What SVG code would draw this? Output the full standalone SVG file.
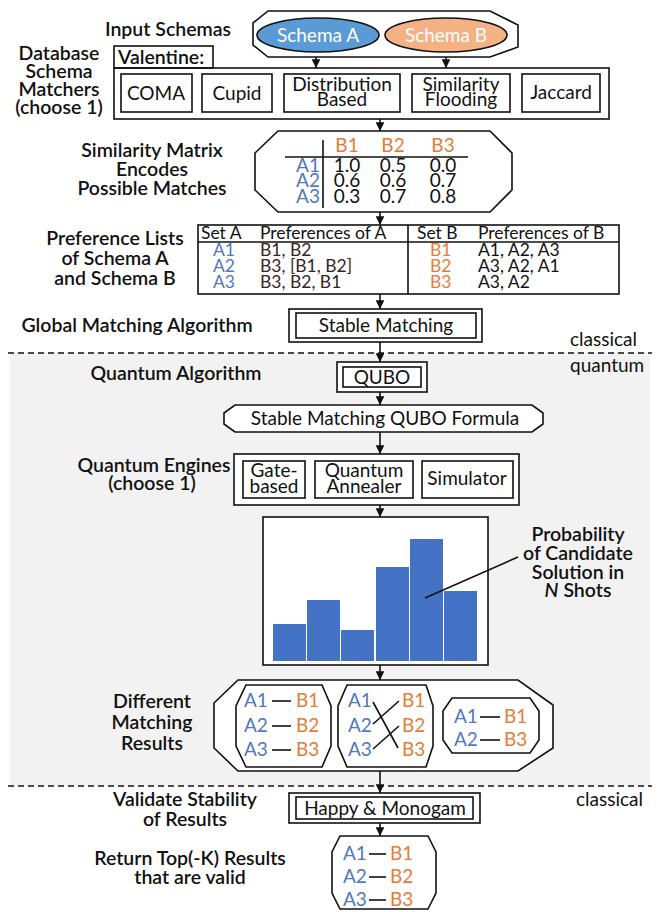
<svg xmlns="http://www.w3.org/2000/svg" width="657" height="912" viewBox="0 0 657 912">
  <style>
    .lbl { font-family: Lato, "Open Sans", sans-serif; font-size: 19.5px; font-weight: 600; fill: #111; text-anchor: middle; }
    .t { font-family: Lato, "Open Sans", sans-serif; font-size: 19px; fill: #111; }
    .c { text-anchor: middle; }
    .box { fill: none; stroke: #111; stroke-width: 1.6; }
    .wbox { fill: #fff; stroke: #111; stroke-width: 1.6; }
    .edge { stroke: #111; stroke-width: 1.6; fill: none; }
    .a { fill: #4f78c4; }
    .b { fill: #e57c37; }
    .pref { fill: #3a2424; }
    .bar { fill: #4472c4; }
    .tbl { font-size: 17.5px; }
  </style>
  <defs>
    <marker id="arr" viewBox="0 0 10 10" refX="10" refY="5" markerWidth="5.5" markerHeight="5.5" orient="auto" markerUnits="strokeWidth">
      <path d="M0,0 L10,5 L0,10 z" fill="#111"/>
    </marker>
  </defs>

  <!-- quantum section background -->
  <rect x="10" y="353" width="640" height="433" fill="#f2f2f2"/>
  <line x1="8" y1="353" x2="652" y2="353" stroke="#111" stroke-width="1.5" stroke-dasharray="6 4"/>
  <line x1="8" y1="786" x2="652" y2="786" stroke="#111" stroke-width="1.5" stroke-dasharray="6 4"/>
  <text class="t" x="570" y="346">classical</text>
  <text class="t" x="570" y="372">quantum</text>
  <text class="t" x="576" y="806">classical</text>

  <!-- step labels -->
  <g id="labels">
    <text class="lbl" x="168" y="36">Input Schemas</text>
    <text class="lbl" x="59" y="60">Database</text>
    <text class="lbl" x="59" y="78">Schema</text>
    <text class="lbl" x="59" y="96">Matchers</text>
    <text class="lbl" x="59" y="114">(choose 1)</text>
    <text class="lbl" x="152" y="157">Similarity Matrix</text>
    <text class="lbl" x="152" y="176">Encodes</text>
    <text class="lbl" x="152" y="195">Possible Matches</text>
    <text class="lbl" x="115" y="245">Preference Lists</text>
    <text class="lbl" x="115" y="265">of Schema A</text>
    <text class="lbl" x="115" y="285">and Schema B</text>
    <text class="lbl" x="137" y="332">Global Matching Algorithm</text>
    <text class="lbl" x="176" y="380">Quantum Algorithm</text>
    <text class="lbl" x="154" y="472">Quantum Engines</text>
    <text class="lbl" x="152" y="490">(choose 1)</text>
    <text class="lbl" x="152" y="708">Different</text>
    <text class="lbl" x="152" y="729">Matching</text>
    <text class="lbl" x="152" y="750">Results</text>
    <text class="lbl" x="185" y="806">Validate Stability</text>
    <text class="lbl" x="185" y="826">of Results</text>
    <text class="lbl" x="190" y="865">Return Top(-K) Results</text>
    <text class="lbl" x="190" y="884">that are valid</text>
  </g>

  <!-- connectors -->
  <g id="connectors">
    <line class="edge" x1="316" y1="52" x2="316" y2="68" marker-end="url(#arr)"/>
    <line class="edge" x1="446" y1="52" x2="446" y2="68" marker-end="url(#arr)"/>
    <line class="edge" x1="380" y1="119" x2="380" y2="131" marker-end="url(#arr)"/>
    <line class="edge" x1="380" y1="212" x2="380" y2="225" marker-end="url(#arr)"/>
    <line class="edge" x1="380" y1="294" x2="380" y2="309" marker-end="url(#arr)"/>
    <line class="edge" x1="380" y1="342" x2="380" y2="362" marker-end="url(#arr)"/>
    <line class="edge" x1="380" y1="392" x2="380" y2="405" marker-end="url(#arr)"/>
    <line class="edge" x1="380" y1="432" x2="380" y2="454" marker-end="url(#arr)"/>
    <line class="edge" x1="380" y1="505" x2="380" y2="517" marker-end="url(#arr)"/>
    <line class="edge" x1="380" y1="665" x2="380" y2="680" marker-end="url(#arr)"/>
    <line class="edge" x1="380" y1="771" x2="380" y2="793" marker-end="url(#arr)"/>
    <line class="edge" x1="380" y1="823" x2="380" y2="836" marker-end="url(#arr)"/>
  </g>

  <!-- input schemas -->
  <g id="input-schemas">
    <polygon class="wbox" points="268,11 490,11 518,25 518,47 490,57 268,57 253,45 253,23"/>
    <ellipse cx="318" cy="35" rx="61" ry="17" fill="#5b9bd5" stroke="#111" stroke-width="1.6"/>
    <text class="t c" x="318" y="42" style="fill:#fff">Schema A</text>
    <ellipse cx="446" cy="35" rx="61" ry="17" fill="#f4b183" stroke="#111" stroke-width="1.6"/>
    <text class="t c" x="446" y="42" style="fill:#fff">Schema B</text>
  </g>

  <!-- schema matchers -->
  <g id="matchers">
    <rect class="box" x="114" y="46" width="99" height="22"/>
    <text class="lbl" x="118" y="64" style="text-anchor:start">Valentine:</text>
    <rect class="box" x="114" y="68" width="495" height="51" stroke-width="2"/>
    <rect class="box" x="121" y="74" width="71" height="38"/>
    <text class="t c" x="156" y="100">COMA</text>
    <rect class="box" x="202" y="74" width="70" height="38"/>
    <text class="t c" x="237" y="100">Cupid</text>
    <rect class="box" x="284" y="74" width="116" height="38"/>
    <text class="t c" x="342" y="91">Distribution</text>
    <text class="t c" x="342" y="106">Based</text>
    <rect class="box" x="412" y="74" width="98" height="38"/>
    <text class="t c" x="461" y="91">Similarity</text>
    <text class="t c" x="461" y="106">Flooding</text>
    <rect class="box" x="522" y="74" width="78" height="38"/>
    <text class="t c" x="561" y="99">Jaccard</text>
  </g>

  <!-- similarity matrix -->
  <g id="similarity-matrix">
    <polygon class="wbox" points="278,131 490,131 512,153 512,190 490,212 278,212 255,190 255,153"/>
    <line class="edge" x1="323" y1="140" x2="323" y2="208"/>
    <line class="edge" x1="285" y1="157" x2="468" y2="157"/>
    <text class="t c b" x="347" y="152">B1</text>
    <text class="t c b" x="393" y="152">B2</text>
    <text class="t c b" x="443" y="152">B3</text>
    <text class="t a" x="320" y="172" text-anchor="end">A1</text>
    <text class="t a" x="320" y="187" text-anchor="end">A2</text>
    <text class="t a" x="320" y="203" text-anchor="end">A3</text>
    <text class="t c" x="347" y="172">1.0</text>
    <text class="t c" x="393" y="172">0.5</text>
    <text class="t c" x="443" y="172">0.0</text>
    <text class="t c" x="347" y="187">0.6</text>
    <text class="t c" x="393" y="187">0.6</text>
    <text class="t c" x="443" y="187">0.7</text>
    <text class="t c" x="347" y="203">0.3</text>
    <text class="t c" x="393" y="203">0.7</text>
    <text class="t c" x="443" y="203">0.8</text>
  </g>

  <!-- preference lists -->
  <g id="preference-lists">
    <rect class="wbox" x="198" y="225" width="421" height="69"/>
    <line class="edge" x1="198" y1="242" x2="619" y2="242"/>
    <line class="edge" x1="408" y1="225" x2="408" y2="294"/>
    <text class="t tbl" x="201" y="239">Set A</text>
    <text class="t tbl" x="260" y="239">Preferences of A</text>
    <text class="t tbl a" x="213" y="256">A1</text>
    <text class="t tbl a" x="213" y="272">A2</text>
    <text class="t tbl a" x="213" y="288">A3</text>
    <text class="t tbl pref" x="260" y="256">B1, B2</text>
    <text class="t tbl pref" x="260" y="272">B3, [B1, B2]</text>
    <text class="t tbl pref" x="260" y="288">B3, B2, B1</text>
    <text class="t tbl" x="417" y="239">Set B</text>
    <text class="t tbl" x="478" y="239">Preferences of B</text>
    <text class="t tbl b" x="430" y="256">B1</text>
    <text class="t tbl b" x="430" y="272">B2</text>
    <text class="t tbl b" x="430" y="288">B3</text>
    <text class="t tbl" x="478" y="256">A1, A2, A3</text>
    <text class="t tbl" x="478" y="272">A3, A2, A1</text>
    <text class="t tbl" x="478" y="288">A3, A2</text>
  </g>

  <!-- stable matching -->
  <g id="stable-matching">
    <rect class="wbox" x="289" y="309" width="193" height="33"/>
    <rect class="box" x="296" y="313" width="180" height="25"/>
    <text class="t c" x="386" y="332">Stable Matching</text>
  </g>

  <!-- QUBO -->
  <g id="qubo">
    <rect class="wbox" x="337" y="362" width="90" height="30"/>
    <rect class="box" x="343" y="367" width="78" height="20"/>
    <text class="t c" x="382" y="384">QUBO</text>
  </g>

  <!-- QUBO formula -->
  <g id="qubo-formula">
    <polygon class="wbox" points="235,405 532,405 543,413 543,424 532,432 235,432 224,424 224,413"/>
    <text class="t c" x="385" y="425">Stable Matching QUBO Formula</text>
  </g>

  <!-- quantum engines -->
  <g id="engines">
    <rect class="wbox" x="234" y="454" width="285" height="51" stroke-width="2"/>
    <rect class="box" x="243" y="461" width="62" height="37"/>
    <text class="t c" x="274" y="477">Gate-</text>
    <text class="t c" x="274" y="493">based</text>
    <rect class="box" x="315" y="461" width="98" height="37"/>
    <text class="t c" x="364" y="477">Quantum</text>
    <text class="t c" x="364" y="493">Annealer</text>
    <rect class="box" x="422" y="461" width="91" height="37"/>
    <text class="t c" x="467" y="485">Simulator</text>
  </g>

  <!-- histogram -->
  <g id="histogram">
    <rect class="wbox" x="263" y="517" width="225" height="148" stroke-width="2"/>
    <rect class="bar" x="273" y="624" width="33" height="37"/>
    <rect class="bar" x="307" y="600" width="33" height="61"/>
    <rect class="bar" x="341" y="630" width="33" height="31"/>
    <rect class="bar" x="376" y="567" width="33" height="94"/>
    <rect class="bar" x="410" y="539" width="33" height="122"/>
    <rect class="bar" x="444" y="591" width="33" height="70"/>
    <line class="edge" x1="425" y1="598" x2="518" y2="557"/>
    <text class="lbl" x="578" y="541">Probability</text>
    <text class="lbl" x="578" y="560">of Candidate</text>
    <text class="lbl" x="578" y="579">Solution in</text>
    <text class="lbl" x="578" y="597"><tspan font-style="italic">N</tspan> Shots</text>
  </g>

  <!-- candidate matchings -->
  <g id="matching-results">
    <polygon class="wbox" points="238,680 518,680 553,705 553,748 518,771 238,771 214,748 214,703"/>
    <polygon class="box" points="246,685 322,685 331,706 331,746 322,767 246,767 236,746 236,706"/>
    <text class="t a" x="244" y="707">A1</text>
    <text class="t a" x="244" y="732">A2</text>
    <text class="t a" x="244" y="756">A3</text>
    <line class="edge" x1="272" y1="701" x2="291" y2="701"/>
    <line class="edge" x1="272" y1="726" x2="291" y2="726"/>
    <line class="edge" x1="272" y1="750" x2="291" y2="750"/>
    <text class="t b" x="296" y="707">B1</text>
    <text class="t b" x="296" y="732">B2</text>
    <text class="t b" x="296" y="756">B3</text>

    <polygon class="box" points="347,685 426,685 433,706 433,746 426,767 347,767 338,746 338,706"/>
    <text class="t a" x="348" y="707">A1</text>
    <text class="t a" x="348" y="732">A2</text>
    <text class="t a" x="348" y="756">A3</text>
    <line class="edge" x1="373" y1="702" x2="398" y2="748"/>
    <line class="edge" x1="373" y1="724" x2="399" y2="701"/>
    <line class="edge" x1="373" y1="749" x2="399" y2="726"/>
    <text class="t b" x="402" y="707">B1</text>
    <text class="t b" x="402" y="732">B2</text>
    <text class="t b" x="402" y="756">B3</text>

    <polygon class="box" points="452,698 530,698 539,711 539,740 530,753 452,753 443,740 443,711"/>
    <text class="t a" x="454" y="723">A1</text>
    <text class="t a" x="454" y="746">A2</text>
    <line class="edge" x1="480" y1="717" x2="500" y2="717"/>
    <line class="edge" x1="480" y1="740" x2="500" y2="740"/>
    <text class="t b" x="504" y="723">B1</text>
    <text class="t b" x="504" y="746">B3</text>
  </g>

  <!-- stability check -->
  <g id="happy-monogam">
    <rect class="wbox" x="289" y="793" width="191" height="30"/>
    <rect class="box" x="296" y="797" width="177" height="22"/>
    <text class="t c" x="385" y="815">Happy &amp; Monogam</text>
  </g>

  <!-- valid results -->
  <g id="top-k">
    <polygon class="wbox" points="340,836 428,836 436,852 436,893 428,909 340,909 332,893 332,852"/>
    <text class="t a" x="343" y="860">A1</text>
    <text class="t a" x="343" y="883">A2</text>
    <text class="t a" x="343" y="906">A3</text>
    <line class="edge" x1="369" y1="854" x2="386" y2="854"/>
    <line class="edge" x1="369" y1="877" x2="386" y2="877"/>
    <line class="edge" x1="369" y1="900" x2="386" y2="900"/>
    <text class="t b" x="390" y="860">B1</text>
    <text class="t b" x="390" y="883">B2</text>
    <text class="t b" x="390" y="906">B3</text>
  </g>
</svg>
